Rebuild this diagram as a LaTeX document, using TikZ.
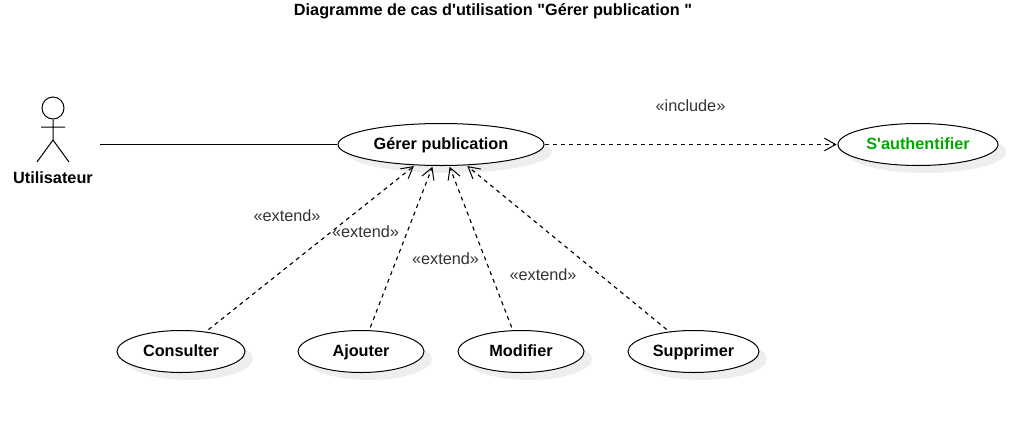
\documentclass[tikz,border=0pt]{standalone}
\usepackage{fontspec}
\usetikzlibrary{arrows.meta,shapes.geometric}
\newfontfamily\diagfont{Liberation Sans}
\definecolor{shadowgrey}{HTML}{EEEEEE}
\definecolor{uigreen}{HTML}{00AA00}
\tikzset{
  x=0.75pt,y=-0.75pt,
  line/.style={draw=black,line width=0.75pt},
  usecase/.style={ellipse,line,fill=white,inner sep=0pt,outer sep=1pt,font=\diagfont\bfseries\fontsize{12.2pt}{14pt}\selectfont,text=black,text height=10pt,text depth=2.5pt},
  caseshadow/.style={ellipse,fill=shadowgrey,inner sep=0pt},
  rel/.style={line,dash pattern=on 3pt off 3pt,-{Straight Barb[length=8.5pt,width=9.5pt,line width=0.75pt]}},
  extendrel/.style={rel,line width=0.85pt,shorten <=1.6pt},
  stereo/.style={font=\diagfont\fontsize{12.2pt}{14pt}\selectfont,text=black!80,inner sep=0pt},
  heading/.style={font=\diagfont\bfseries\fontsize{12.2pt}{14pt}\selectfont,inner sep=0pt}
}
\begin{document}
\begin{tikzpicture}
\useasboundingbox (0,0) rectangle (1018,422);
% shadows
\foreach \cx/\cw/\cy in {441/154.5/144,918/120/144,181/96/351,361/94.5/351,521/94.5/351,693.5/98.25/351}{
  \node[caseshadow,minimum width=\cw pt,minimum height=31.5pt] at (\cx+8,\cy+8) {};
}
\node[heading] (title) at (493,11) {Diagramme de cas d'utilisation "Gérer publication "};
% actor
\node[line,circle,minimum size=16.5pt,inner sep=0pt] (head) at (53,108) {};
\coordinate (hip) at (53,140);
\coordinate (armL) at (41,127);
\coordinate (armR) at (65,127);
\coordinate (legL) at (37,162);
\coordinate (legR) at (69,162);
\draw[line] (head.south) -- (hip) (armL) -- (armR) (legL) -- (hip) -- (legR);
\node[heading] (actor) at (53,178) {Utilisateur};
% use cases
\node[usecase,minimum width=154.5pt,minimum height=31.5pt] (gerer) at (441,144.5) {Gérer publication};
\node[usecase,minimum width=120pt,minimum height=31.5pt,text=uigreen] (auth) at (918,144.5) {S'authentifier};
\node[usecase,minimum width=96pt,minimum height=31.5pt] (consulter) at (181,351.5) {Consulter};
\node[usecase,minimum width=94.5pt,minimum height=31.5pt] (ajouter) at (361,351.5) {Ajouter};
\node[usecase,minimum width=94.5pt,minimum height=31.5pt] (modifier) at (521,351.5) {Modifier};
\node[usecase,minimum width=98.25pt,minimum height=31.5pt] (supprimer) at (693.5,351.5) {Supprimer};
% connectors
\coordinate (actorend) at (100,144.5);
\draw[line] (actorend) -- (gerer);
\draw[rel] (gerer) -- (auth);
\draw[extendrel] (consulter) -- (gerer);
\draw[extendrel] (ajouter) -- (gerer);
\draw[extendrel] (modifier) -- (gerer);
\draw[extendrel] (supprimer) -- (gerer);
% stereotypes
\node[stereo] (l1) at (690.5,106) {«include»};
\node[stereo] (l2) at (287,216) {«extend»};
\node[stereo] (l3) at (365.5,232) {«extend»};
\node[stereo] (l4) at (445.5,259) {«extend»};
\node[stereo] (l5) at (543,275) {«extend»};
\end{tikzpicture}
\end{document}
